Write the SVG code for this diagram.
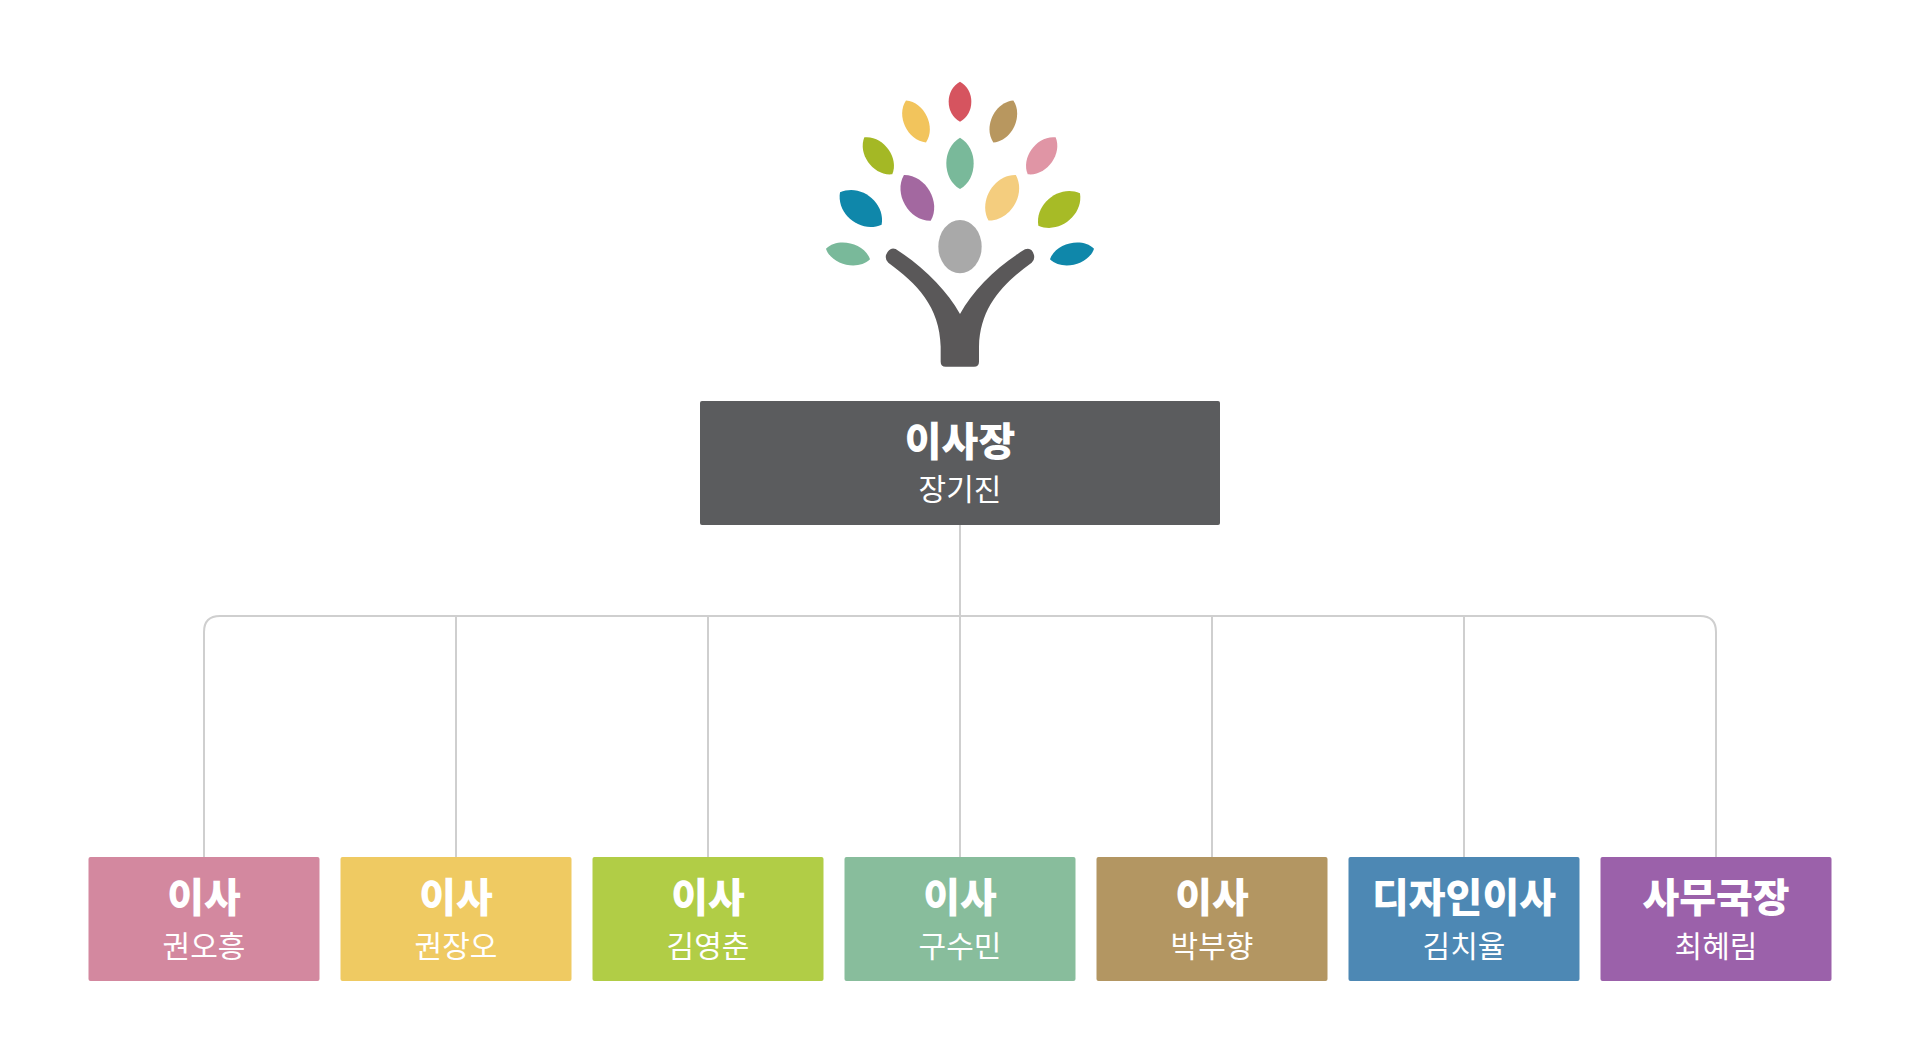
<svg xmlns="http://www.w3.org/2000/svg" width="1920" height="1064" viewBox="0 0 1920 1064">
<defs>
<style>
.bg{fill:#ffffff}
.box{stroke:none}
.t{font-family:"Noto Sans CJK KR","Noto Sans",sans-serif;fill:#ffffff;text-anchor:middle}
.ttl{font-weight:900;font-size:40px}
.nm{font-weight:400;font-size:30px}
.ln{fill:none;stroke:#cfcfcf;stroke-width:2}
</style>
<path id="leaf" d="M0,-50 C36,-30 36,30 0,50 C-36,30 -36,-30 0,-50 Z"/>
</defs>
<rect class="bg" x="0" y="0" width="1920" height="1064"/>

<g id="logo" transform="translate(800 60) scale(0.33333)">
<use href="#leaf" fill="#d6545f" transform="translate(480 125) rotate(0) scale(1.26 1.2)"/>
<use href="#leaf" fill="#f2c45c" transform="translate(348 184.5) rotate(-25.6) scale(1.33 1.39)"/>
<use href="#leaf" fill="#b8975f" transform="translate(610 184.5) rotate(25.6) scale(1.33 1.39)"/>
<use href="#leaf" fill="#a4b825" transform="translate(235 287.5) rotate(-37) scale(1.33 1.39)"/>
<use href="#leaf" fill="#e095a5" transform="translate(725 287.5) rotate(37) scale(1.33 1.39)"/>
<use href="#leaf" fill="#79b99a" transform="translate(480 310) rotate(0) scale(1.52 1.54)"/>
<use href="#leaf" fill="#a368a0" transform="translate(352 413.5) rotate(-30.3) scale(1.57 1.59)"/>
<use href="#leaf" fill="#f4cd7e" transform="translate(606.5 413.5) rotate(31) scale(1.57 1.59)"/>
<use href="#leaf" fill="#0f87aa" transform="translate(182.5 445.5) rotate(-52.2) scale(1.66 1.58)"/>
<use href="#leaf" fill="#a7bb26" transform="translate(777.5 448.5) rotate(52.2) scale(1.63 1.58)"/>
<use href="#leaf" fill="#79b99a" transform="translate(144 582) rotate(-76.4) scale(1.2 1.36)"/>
<use href="#leaf" fill="#0f87aa" transform="translate(816 582) rotate(76.4) scale(1.2 1.36)"/>
<ellipse cx="480" cy="560" rx="65" ry="80" fill="#a9a9a9"/>
<path fill="#5a5859" d="M287 567 C370 620 440 690 480 762 C520 690 590 620 675 568 Q695 560 702 585 Q705 600 695 608 C610 670 540 740 537 860 L537 905 Q537 920 522 920 L437 920 Q422 920 422 905 L422 860 C420 740 350 670 265 608 Q255 600 258 585 Q268 560 287 567 Z"/>
</g>

<g id="connectors">
<path class="ln" d="M960,525 V616"/>
<path class="ln" d="M204,857 V632 Q204,616 220,616 H1700 Q1716,616 1716,632 V857"/>
<path class="ln" d="M456,616 V857"/>
<path class="ln" d="M708,616 V857"/>
<path class="ln" d="M960,616 V857"/>
<path class="ln" d="M1212,616 V857"/>
<path class="ln" d="M1464,616 V857"/>
</g>

<g id="node-chair">
<rect class="box" x="700" y="401" width="520" height="124" rx="2" fill="#5b5c5e"/>
<text class="t ttl" x="960" y="456">이사장</text>
<text class="t nm" x="960" y="500">장기진</text>
</g>

<g id="node-1">
<rect class="box" x="88.5" y="857" width="231" height="124" rx="2" fill="#d3889f"/>
<text class="t ttl" x="204" y="912">이사</text>
<text class="t nm" x="204" y="957">권오흥</text>
</g>
<g id="node-2">
<rect class="box" x="340.5" y="857" width="231" height="124" rx="2" fill="#efca62"/>
<text class="t ttl" x="456" y="912">이사</text>
<text class="t nm" x="456" y="957">권장오</text>
</g>
<g id="node-3">
<rect class="box" x="592.5" y="857" width="231" height="124" rx="2" fill="#b1cd46"/>
<text class="t ttl" x="708" y="912">이사</text>
<text class="t nm" x="708" y="957">김영춘</text>
</g>
<g id="node-4">
<rect class="box" x="844.5" y="857" width="231" height="124" rx="2" fill="#88bd9c"/>
<text class="t ttl" x="960" y="912">이사</text>
<text class="t nm" x="960" y="957">구수민</text>
</g>
<g id="node-5">
<rect class="box" x="1096.5" y="857" width="231" height="124" rx="2" fill="#b39662"/>
<text class="t ttl" x="1212" y="912">이사</text>
<text class="t nm" x="1212" y="957">박부향</text>
</g>
<g id="node-6">
<rect class="box" x="1348.5" y="857" width="231" height="124" rx="2" fill="#4d88b4"/>
<text class="t ttl" x="1464" y="912">디자인이사</text>
<text class="t nm" x="1464" y="957">김치율</text>
</g>
<g id="node-7">
<rect class="box" x="1600.5" y="857" width="231" height="124" rx="2" fill="#9b61aa"/>
<text class="t ttl" x="1716" y="912">사무국장</text>
<text class="t nm" x="1716" y="957">최혜림</text>
</g>
</svg>
